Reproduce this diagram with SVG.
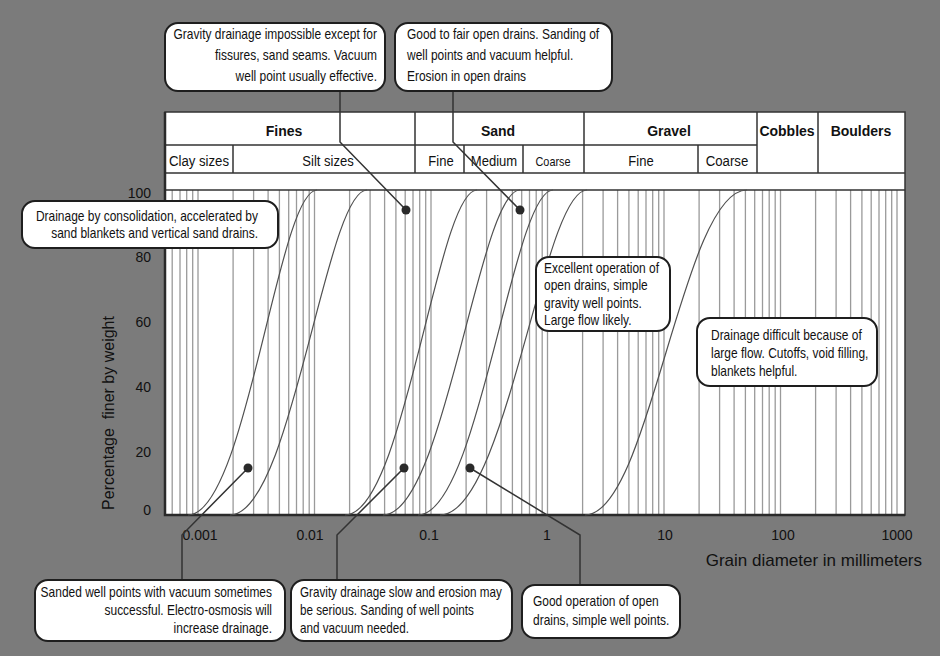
<svg xmlns="http://www.w3.org/2000/svg" width="940" height="656" viewBox="0 0 940 656">
  <style>
    text { font-family: "Liberation Sans", Arial, Helvetica, sans-serif; fill: #111; }
    .hd { font-size: 14px; font-weight: bold; text-anchor: middle; }
    .sub { font-size: 15px; text-anchor: middle; }
    .tick { font-size: 14px; }
    .ax { font-size: 16px; }
    .note { font-size: 14px; }
    .sheet { fill: #fff; stroke: #333; stroke-width: 1.5; }
    .box { fill: #fff; stroke: #1e1e1e; stroke-width: 2; }
    .grid { stroke: #9a9a9a; stroke-width: 1.3; fill: none; }
    .curve { stroke: #505050; stroke-width: 1.2; fill: none; }
    .lead { stroke: #333; stroke-width: 1.5; fill: none; }
    .dot { fill: #2a2a2a; }
    .rule { stroke: #333; stroke-width: 1.5; fill: none; }
  </style>

  <!-- page background -->
  <rect x="0" y="0" width="940" height="656" fill="#7b7b7b"/>

  <!-- chart sheet: classification table + grading plot -->
  <g id="chart">
    <rect class="sheet" x="165" y="112" width="740" height="403"/>
    <!-- vertical log grid, x = 547.5 + 116.5*log10(d) -->
    <path class="grid" d="M172.2,190v325M180,190v325M186.7,190v325M192.7,190v325
      M198,190v325M233.1,190v325M253.6,190v325M268.1,190v325M279.4,190v325M288.7,190v325M296.5,190v325M303.2,190v325M309.2,190v325
      M314.5,190v325M349.6,190v325M370.1,190v325M384.6,190v325M395.9,190v325M405.2,190v325M413,190v325M419.7,190v325M425.7,190v325
      M431,190v325M466.1,190v325M486.6,190v325M501.1,190v325M512.4,190v325M521.7,190v325M529.5,190v325M536.2,190v325M542.2,190v325
      M547.5,190v325M582.6,190v325M603.1,190v325M617.6,190v325M628.9,190v325M638.2,190v325M646,190v325M652.7,190v325M658.7,190v325
      M664,190v325M699.1,190v325M719.6,190v325M734.1,190v325M745.4,190v325M754.7,190v325M762.5,190v325M769.2,190v325M775.2,190v325
      M780.5,190v325M815.6,190v325M836.1,190v325M850.6,190v325M861.9,190v325M871.2,190v325M879,190v325M885.7,190v325M891.7,190v325
      M897,190v325"/>
    <!-- table rules -->
    <path class="rule" d="M165,145H757M165,173H905M165,190H905
      M415,112V173M584,112V173M757,112V173M818,112V173
      M233,145V173M464,145V173M523,145V173M698,145V173"/>
    <path d="M165,112V515H905" stroke="#2a2a2a" stroke-width="2.5" fill="none"/>
  </g>

  <!-- soil class headings -->
  <g id="class-headings">
    <text class="hd" x="284" y="136">Fines</text>
    <text class="hd" x="498" y="136">Sand</text>
    <text class="hd" x="669" y="136">Gravel</text>
    <text class="hd" x="787" y="136">Cobbles</text>
    <text class="hd" x="861" y="136">Boulders</text>
    <text class="sub" transform="translate(199 166) scale(0.88 1)">Clay sizes</text>
    <text class="sub" transform="translate(328 166) scale(0.87 1)">Silt sizes</text>
    <text class="sub" transform="translate(441 166) scale(0.87 1)">Fine</text>
    <text class="sub" transform="translate(494 166) scale(0.87 1)">Medium</text>
    <text class="sub" transform="translate(553 166) scale(0.87 1)" style="font-size:12.5px">Coarse</text>
    <text class="sub" transform="translate(641 166) scale(0.87 1)">Fine</text>
    <text class="sub" transform="translate(727 166) scale(0.88 1)">Coarse</text>
  </g>

  <!-- grading curves -->
  <g id="curves">
    <path class="curve" d="M188,515C246.1,515 278.3,190 317,190"/>
    <path class="curve" d="M230,515C291.7,515 325.9,190 367,190"/>
    <path class="curve" d="M345,515C404.4,515 437.4,190 477,190"/>
    <path class="curve" d="M383,515C444.7,515 478.9,190 520,190"/>
    <path class="curve" d="M418,515C478.8,515 512.5,190 553,190"/>
    <path class="curve" d="M440,515C506.2,515 542.9,190 587,190"/>
    <path class="curve" d="M585,515C649.8,515 682.2,190 747,190"/>
  </g>

  <!-- axes labels -->
  <g id="axes">
    <g class="tick" text-anchor="end">
      <text x="151" y="198">100</text>
      <text x="151" y="262">80</text>
      <text x="151" y="327">60</text>
      <text x="151" y="392">40</text>
      <text x="151" y="457">20</text>
      <text x="151" y="515">0</text>
    </g>
    <g class="tick" text-anchor="middle">
      <text x="200" y="540">0.001</text>
      <text x="310" y="540">0.01</text>
      <text x="429" y="540">0.1</text>
      <text x="547" y="540">1</text>
      <text x="665" y="540">10</text>
      <text x="783" y="540">100</text>
      <text x="897" y="540">1000</text>
    </g>
    <text class="ax" style="font-size:17px" x="922" y="566" text-anchor="end">Grain diameter in millimeters</text>
    <text class="ax" transform="translate(114 413) rotate(-90)" text-anchor="middle" xml:space="preserve">Percentage  finer by weight</text>
  </g>

  <!-- leader lines from notes to their zones -->
  <g id="connectors">
    <path class="lead" d="M340,91V142L406,210"/>
    <path class="lead" d="M453,91V142L520,210"/>
    <path class="lead" d="M248,468L182,535V580"/>
    <path class="lead" d="M404,468L337,535V580"/>
    <path class="lead" d="M470,468L580,535V585"/>
    <circle class="dot" cx="406" cy="210" r="4.5"/>
    <circle class="dot" cx="520" cy="210" r="4.5"/>
    <circle class="dot" cx="248" cy="468" r="4.5"/>
    <circle class="dot" cx="404" cy="468" r="4.5"/>
    <circle class="dot" cx="470" cy="468" r="4.5"/>
  </g>

  <g id="note-gravity-impossible">
    <rect class="box" x="165" y="23" width="220" height="68" rx="13"/>
    <g class="note" text-anchor="end">
      <text transform="translate(377 39) scale(0.855 1)">Gravity drainage impossible except for</text>
      <text transform="translate(377 60) scale(0.855 1)">fissures, sand seams. Vacuum</text>
      <text transform="translate(377 81) scale(0.855 1)">well point usually effective.</text>
    </g>
  </g>

  <g id="note-good-to-fair">
    <rect class="box" x="395" y="23" width="217" height="68" rx="13"/>
    <g class="note">
      <text transform="translate(407 39) scale(0.855 1)">Good to fair open drains. Sanding of</text>
      <text transform="translate(407 60) scale(0.855 1)">well points and vacuum helpful.</text>
      <text transform="translate(407 81) scale(0.855 1)">Erosion in open drains</text>
    </g>
  </g>

  <g id="note-consolidation">
    <rect class="box" x="22" y="201" width="256" height="47" rx="13"/>
    <g class="note" text-anchor="end">
      <text transform="translate(258 221) scale(0.855 1)">Drainage by consolidation, accelerated by</text>
      <text transform="translate(258 238) scale(0.855 1)">sand blankets and vertical sand drains.</text>
    </g>
  </g>

  <g id="note-excellent">
    <rect class="box" x="536" y="257" width="134" height="74" rx="13"/>
    <g class="note">
      <text transform="translate(544 273) scale(0.855 1)">Excellent operation of</text>
      <text transform="translate(544 290) scale(0.855 1)">open drains, simple</text>
      <text transform="translate(544 308) scale(0.855 1)">gravity well points.</text>
      <text transform="translate(544 325) scale(0.855 1)">Large flow likely.</text>
    </g>
  </g>

  <g id="note-difficult">
    <rect class="box" x="697" y="318" width="180" height="68" rx="13"/>
    <g class="note">
      <text transform="translate(711 340) scale(0.855 1)">Drainage difficult because of</text>
      <text transform="translate(711 358) scale(0.855 1)">large flow. Cutoffs, void filling,</text>
      <text transform="translate(711 376) scale(0.855 1)">blankets helpful.</text>
    </g>
  </g>

  <g id="note-sanded-well-points">
    <rect class="box" x="35" y="580" width="250" height="61" rx="13"/>
    <g class="note" text-anchor="end">
      <text transform="translate(272 597) scale(0.855 1)">Sanded well points with vacuum sometimes</text>
      <text transform="translate(272 615) scale(0.855 1)">successful. Electro-osmosis will</text>
      <text transform="translate(272 633) scale(0.855 1)">increase drainage.</text>
    </g>
  </g>

  <g id="note-gravity-slow">
    <rect class="box" x="291" y="580" width="221" height="61" rx="13"/>
    <g class="note">
      <text transform="translate(300 597) scale(0.835 1)">Gravity drainage slow and erosion may</text>
      <text transform="translate(300 615) scale(0.835 1)">be serious. Sanding of well points</text>
      <text transform="translate(300 633) scale(0.835 1)">and vacuum needed.</text>
    </g>
  </g>

  <g id="note-good-operation">
    <rect class="box" x="522" y="585" width="158" height="53" rx="13"/>
    <g class="note">
      <text transform="translate(533 606) scale(0.855 1)">Good operation of open</text>
      <text transform="translate(533 625) scale(0.855 1)">drains, simple well points.</text>
    </g>
  </g>
</svg>
